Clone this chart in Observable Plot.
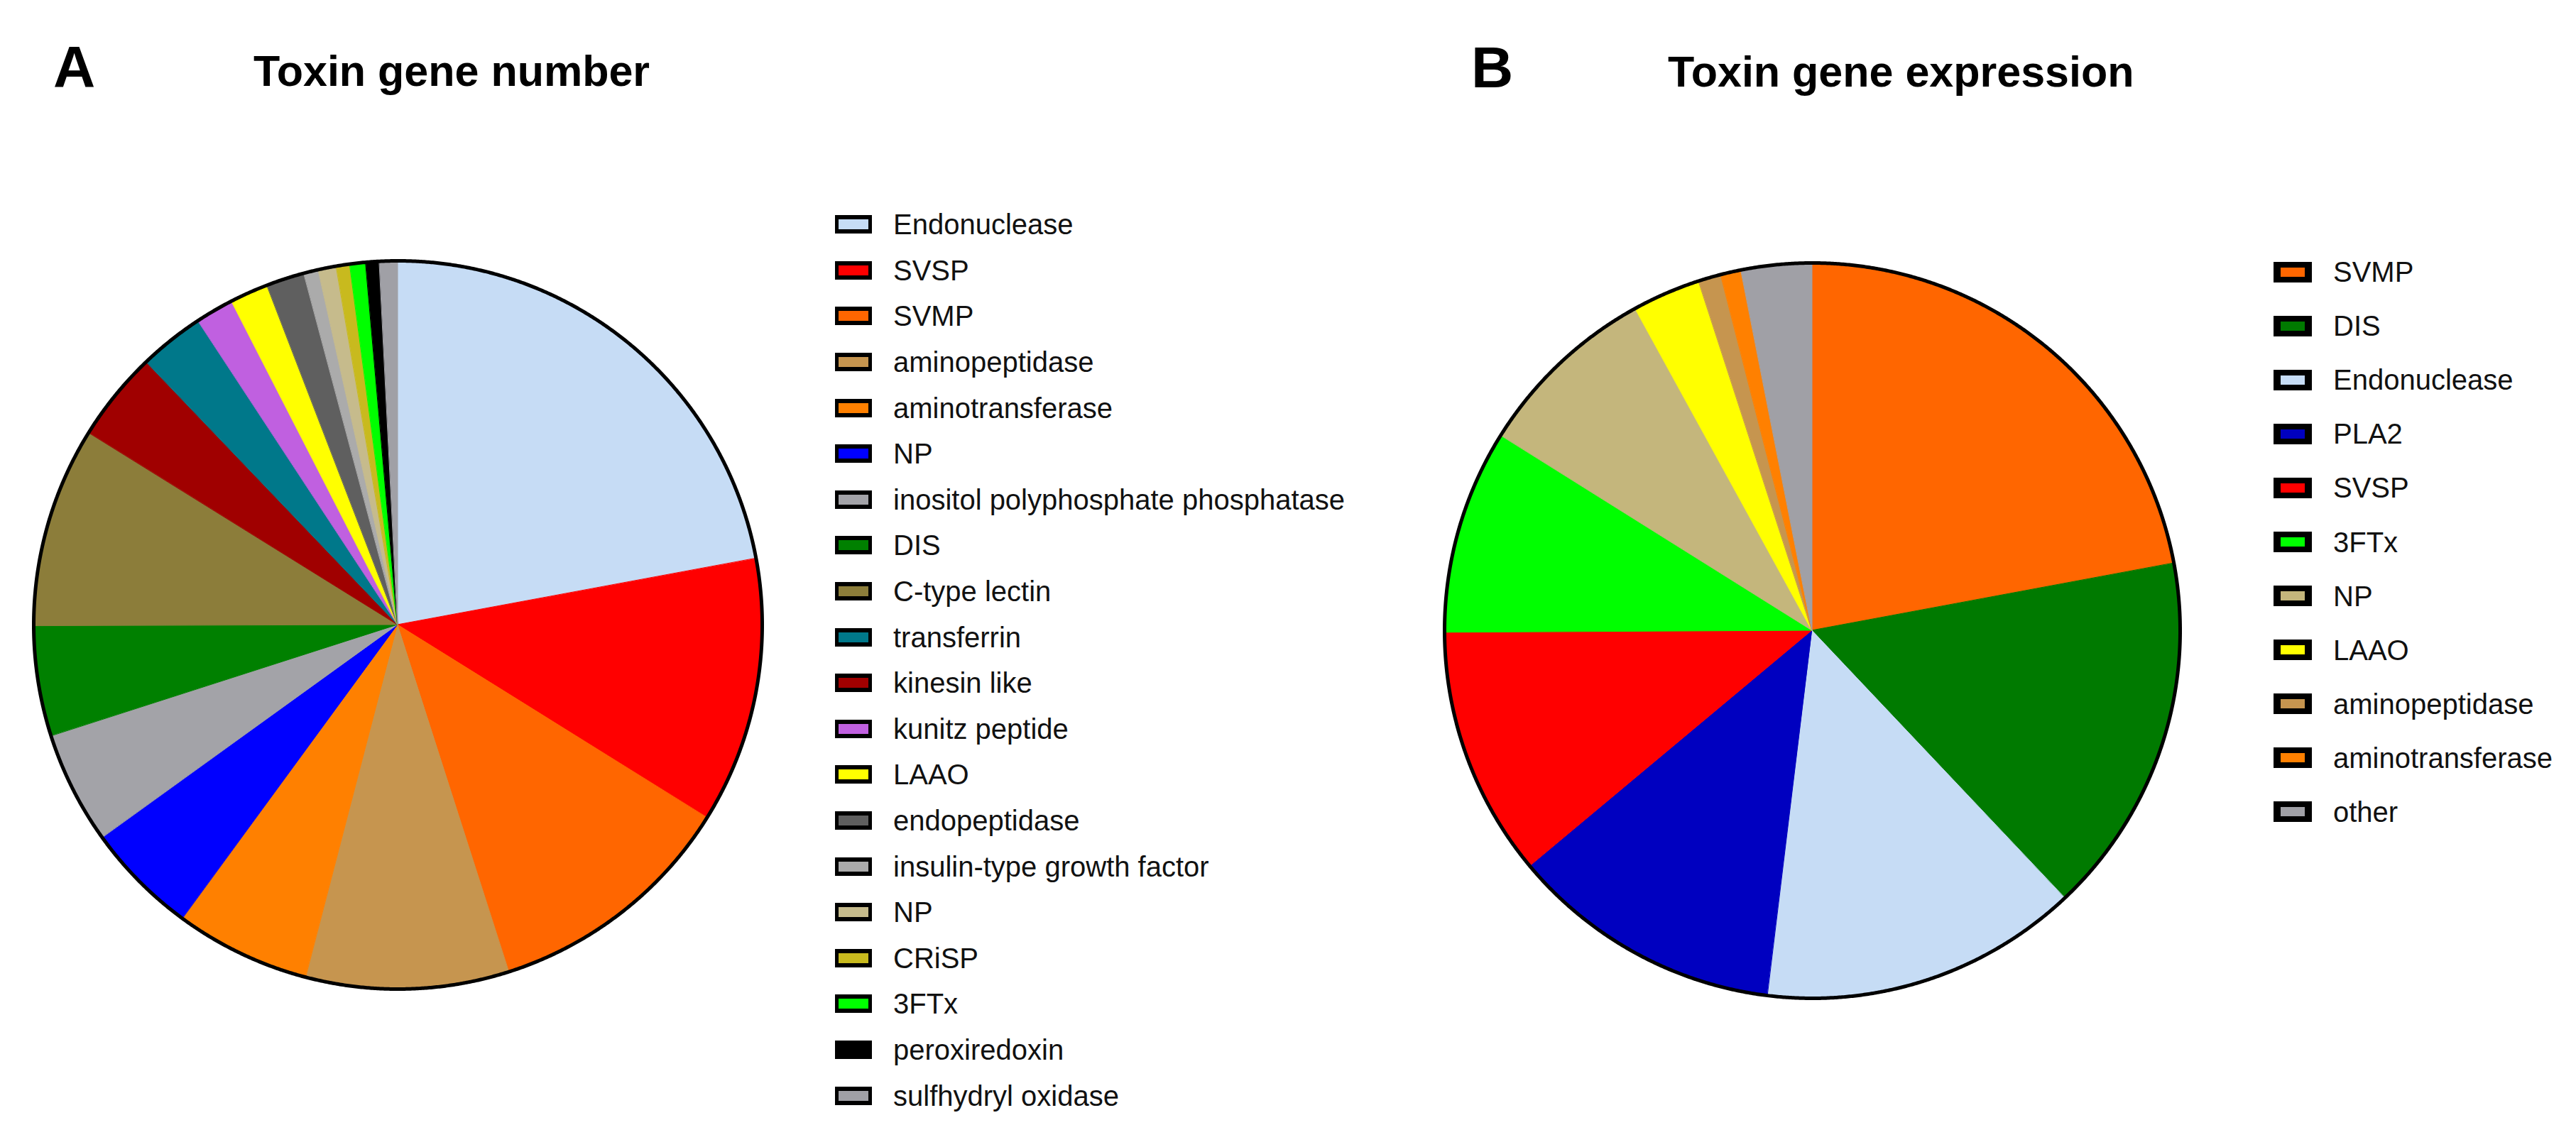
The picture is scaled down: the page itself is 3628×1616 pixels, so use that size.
<!DOCTYPE html>
<html>
<head>
<meta charset="utf-8">
<script src="https://cdn.jsdelivr.net/npm/d3@7"></script>
<script src="https://cdn.jsdelivr.net/npm/@observablehq/plot@0.6"></script>
<style>
html, body { margin: 0; padding: 0; background: #fff; }
#page { position: relative; width: 3628px; height: 1616px; overflow: hidden; font-family: "Liberation Sans", Arial, sans-serif; color: #000; background: #fff; }
.abs { position: absolute; }
.panel { font-weight: bold; font-size: 82px; line-height: 82px; white-space: nowrap; }
.title { font-weight: bold; font-size: 61px; line-height: 61px; white-space: nowrap; }
.row { display: flex; align-items: center; font-size: 40px; line-height: 40px; white-space: nowrap; color: #111; }
.sw { box-sizing: border-box; border-style: solid; border-color: #000; flex: none; }
</style>
</head>
<body>
<div id="page">
  <div class="abs panel" style="left:75px; top:53px;">A</div>
  <div class="abs title" style="left:357px; top:70px;">Toxin gene number</div>
  <div class="abs panel" style="left:2072px; top:54px;">B</div>
  <div class="abs title" style="left:2349px; top:71px;">Toxin gene expression</div>
  <div id="pieA" class="abs" style="left:37px; top:357px;"></div>
  <div id="pieB" class="abs" style="left:2024px; top:360px;"></div>
  <div id="legA" class="abs" style="left:1176px; top:284px;"></div>
  <div id="legB" class="abs" style="left:3202px; top:345px;"></div>
</div>
<script>
// ---------- Panel A: toxin gene number (legend order) ----------
const numberCategories = [
  "Endonuclease", "SVSP", "SVMP", "aminopeptidase", "aminotransferase", "NP",
  "inositol polyphosphate phosphatase", "DIS", "C-type lectin", "transferrin",
  "kinesin like", "kunitz peptide", "LAAO", "endopeptidase",
  "insulin-type growth factor", "NP", "CRiSP", "3FTx", "peroxiredoxin", "sulfhydryl oxidase"
];
const numberValues = [22.1, 11.8, 11.2, 9.0, 6.0, 5.0, 5.0, 4.9, 8.9, 2.9,
                      4.0, 1.7, 1.7, 1.7, 0.65, 0.8, 0.6, 0.7, 0.6, 0.8];
const numberColors = ["#C6DCF5", "#FF0000", "#FF6600", "#C6954F", "#FF8000", "#0000FF",
                      "#A3A3A8", "#008000", "#8C7D3A", "#00788A",
                      "#A00000", "#C060E0", "#FFFF00", "#5F5F5F",
                      "#ABABAB", "#C6BB8C", "#C8BA1E", "#00FF00", "#000000", "#A0A0A6"];
// clockwise drawing order of the slices in the pie
const numberPieOrder = [0, 1, 2, 3, 4, 5, 6, 7, 8, 10, 9, 11, 12, 13, 14, 15, 16, 17, 18, 19];

// ---------- Panel B: toxin gene expression ----------
const exprCategories = ["SVMP", "DIS", "Endonuclease", "PLA2", "SVSP", "3FTx", "NP",
                        "LAAO", "aminopeptidase", "aminotransferase", "other"];
const exprValues = [22.1, 15.9, 14.0, 12.0, 11.0, 9.0, 8.1, 3.0, 1.0, 0.9, 3.1];
const exprColors = ["#FF6600", "#007A00", "#C6DCF5", "#0000C0", "#FF0000", "#00FF00", "#C4B67C",
                    "#FFFF00", "#C6954F", "#FF8000", "#A0A0A6"];
const exprPieOrder = [0, 1, 2, 3, 4, 5, 6, 7, 8, 9, 10];

function pieChart(values, colors, order, radius, margin) {
  const items = order.map(i => ({value: values[i], color: colors[i]}));
  const arcs = d3.pie().sort(null).value(d => d.value)(items);
  const pts = [];
  arcs.forEach((a, i) => {
    const n = Math.max(4, Math.ceil((a.endAngle - a.startAngle) / 0.004));
    for (let k = 0; k <= n; k++) {
      const t = a.startAngle + (a.endAngle - a.startAngle) * k / n;
      pts.push({slice: i, color: a.data.color, x: Math.sin(t), y: Math.cos(t)});
    }
  });
  const size = 2 * (radius + margin);
  return Plot.plot({
    width: size,
    height: size,
    margin: margin,
    x: {domain: [-1, 1], axis: null},
    y: {domain: [-1, 1], axis: null},
    color: {type: "identity"},
    style: {background: "transparent"},
    marks: [
      Plot.area(pts, {x1: 0, y1: 0, x2: "x", y2: "y", z: "slice", fill: "color", stroke: "color", strokeWidth: 1}),
      Plot.line(pts, {x: "x", y: "y", stroke: "#000", strokeWidth: 5, curve: "linear-closed"})
    ]
  });
}

function legend(el, names, colors, rowH, swW, swH, borderCss, gap) {
  names.forEach((name, i) => {
    const row = document.createElement("div");
    row.className = "row";
    row.style.height = rowH + "px";
    const sw = document.createElement("div");
    sw.className = "sw";
    sw.style.width = swW + "px";
    sw.style.height = swH + "px";
    sw.style.borderWidth = borderCss;
    sw.style.background = colors[i];
    const tx = document.createElement("span");
    tx.textContent = name;
    tx.style.marginLeft = gap + "px";
    row.appendChild(sw);
    row.appendChild(tx);
    el.appendChild(row);
  });
}

document.getElementById("pieA").appendChild(pieChart(numberValues, numberColors, numberPieOrder, 513, 10));
document.getElementById("pieB").appendChild(pieChart(exprValues, exprColors, exprPieOrder, 518, 10));
legend(document.getElementById("legA"), numberCategories, numberColors, 64.6, 52, 26, "6px 5px", 30);
legend(document.getElementById("legB"), exprCategories, exprColors, 76.1, 54, 29, "8px 10px", 30);
</script>
</body>
</html>
